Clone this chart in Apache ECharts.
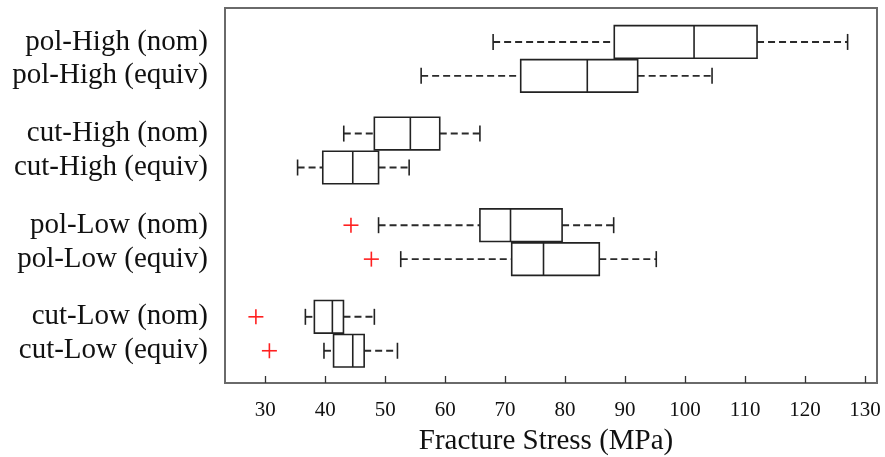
<!DOCTYPE html>
<html>
<head>
<meta charset="utf-8">
<script src="https://cdn.jsdelivr.net/npm/echarts@6/dist/echarts.min.js"></script>
<style>
html,body{margin:0;padding:0;background:#fff;}
#chart{width:885px;height:457px;}
</style>
</head>
<body>
<div id="chart"></div>
<script>
// ---- data ----
var categories = ['pol-High (nom)', 'pol-High (equiv)', 'cut-High (nom)', 'cut-High (equiv)',
                  'pol-Low (nom)', 'pol-Low (equiv)', 'cut-Low (nom)', 'cut-Low (equiv)'];
var whiskerLow  = [68.0, 56.0, 43.1, 35.4, 48.9, 52.6, 36.7, 39.8];
var q1          = [88.2, 72.6, 48.2, 39.6, 65.8, 71.1, 38.2, 41.4];
var medians     = [101.5, 83.7, 54.2, 44.6, 70.9, 76.4, 41.2, 44.6];
var q3          = [112.0, 92.1, 59.1, 48.9, 79.5, 85.7, 43.05, 46.5];
var whiskerHigh = [127.1, 104.5, 65.8, 54.0, 88.1, 95.2, 48.2, 52.05];
var outlierCat  = [4, 5, 6, 7];
var outlierVal  = [44.3, 47.7, 28.45, 30.7];
var xTickLabels = [30, 40, 50, 60, 70, 80, 90, 100, 110, 120, 130];

// layout: pairs of boxes with a gap between groups
function pos(i) { return 1 + Math.floor(i / 2) * 2.7 + (i % 2); }
var yPositions = categories.map(function (c, i) { return pos(i); });

var boxData = categories.map(function (c, i) {
  return [i, whiskerLow[i], q1[i], medians[i], q3[i], whiskerHigh[i]];
});
var outData = outlierCat.map(function (c, k) { return [c, outlierVal[k]]; });

var FONT = "'Liberation Serif', 'Times New Roman', serif";

function renderBox(params, api) {
  var i = api.value(0);
  var y = pos(i);
  var lo = api.coord([api.value(1), y]);
  var a = api.coord([api.value(2), y]);
  var m = api.coord([api.value(3), y]);
  var b = api.coord([api.value(4), y]);
  var hi = api.coord([api.value(5), y]);
  var half = Math.abs(api.size([0, 0.48])[1]);
  var cap = 8;
  var cy = lo[1];
  var dashStyle = {stroke: '#2a2a2a', lineWidth: 1.9, lineDash: [7, 4]};
  var solid = {stroke: '#222', lineWidth: 1.6};
  return {
    type: 'group',
    children: [
      {type: 'line', shape: {x1: lo[0], y1: cy, x2: a[0], y2: cy}, style: dashStyle},
      {type: 'line', shape: {x1: b[0], y1: cy, x2: hi[0], y2: cy}, style: dashStyle},
      {type: 'line', shape: {x1: lo[0], y1: cy - cap, x2: lo[0], y2: cy + cap}, style: solid},
      {type: 'line', shape: {x1: hi[0], y1: cy - cap, x2: hi[0], y2: cy + cap}, style: solid},
      {type: 'rect', shape: {x: a[0], y: cy - half, width: b[0] - a[0], height: 2 * half},
       style: {fill: 'none', stroke: '#222', lineWidth: 1.6}},
      {type: 'line', shape: {x1: m[0], y1: cy - half, x2: m[0], y2: cy + half}, style: solid}
    ]
  };
}

function renderOutlier(params, api) {
  var p = api.coord([api.value(1), pos(api.value(0))]);
  var s = 7.5;
  var st = {stroke: '#ff2020', lineWidth: 1.6};
  return {
    type: 'group',
    children: [
      {type: 'line', shape: {x1: p[0] - s, y1: p[1], x2: p[0] + s, y2: p[1]}, style: st},
      {type: 'line', shape: {x1: p[0], y1: p[1] - s, x2: p[0], y2: p[1] + s}, style: st}
    ]
  };
}

var chart = echarts.init(document.getElementById('chart'), null, {renderer: 'canvas'});
chart.setOption({
  animation: false,
  backgroundColor: '#fff',
  grid: {left: 225, right: 8, top: 8, bottom: 74, show: true, outerBoundsMode: 'none',
         containLabel: false,
         borderColor: '#6a6a6a', borderWidth: 2, backgroundColor: 'transparent'},
  xAxis: {
    type: 'value', min: 23.3, max: 132,
    name: 'Fracture Stress (MPa)', nameLocation: 'middle', nameGap: 44,
    nameTextStyle: {fontFamily: FONT, fontSize: 29, color: '#111', padding: [0, 10, 0, 0]},
    axisLine: {show: true, onZero: false, lineStyle: {color: '#6a6a6a', width: 2}},
    axisTick: {show: true, inside: true, length: 7, customValues: xTickLabels,
               lineStyle: {color: '#333', width: 1.3}},
    axisLabel: {customValues: xTickLabels, margin: 17, fontFamily: FONT, fontSize: 21, color: '#111'},
    splitLine: {show: false}
  },
  yAxis: {
    type: 'value', min: 0, max: 11.05, inverse: true,
    axisLine: {show: false},
    axisTick: {show: false},
    splitLine: {show: false},
    axisLabel: {
      customValues: yPositions, margin: 17, fontFamily: FONT, fontSize: 29, color: '#111',
      formatter: function (v) {
        var best = 0;
        for (var i = 0; i < yPositions.length; i++) {
          if (Math.abs(yPositions[i] - v) < Math.abs(yPositions[best] - v)) best = i;
        }
        return categories[best];
      }
    }
  },
  series: [
    {type: 'custom', renderItem: renderBox, data: boxData, encode: {x: [1, 2, 3, 4, 5], y: 0}, z: 3},
    {type: 'custom', renderItem: renderOutlier, data: outData, encode: {x: 1, y: 0}, z: 4}
  ]
});
</script>
</body>
</html>
